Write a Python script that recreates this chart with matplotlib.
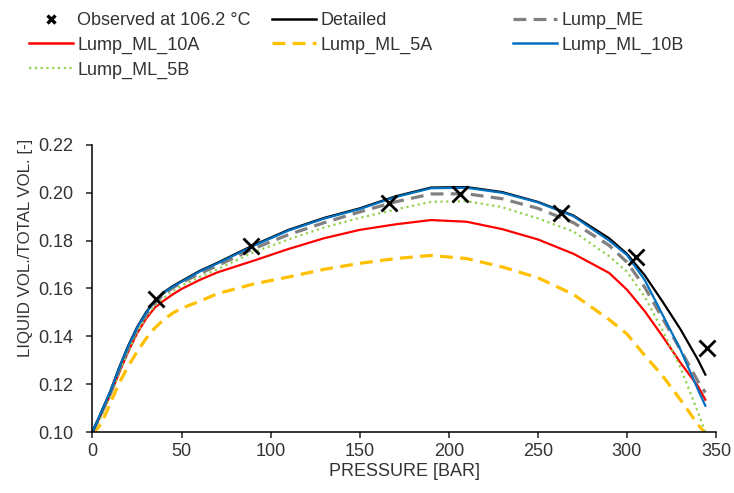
import matplotlib
matplotlib.use("Agg")
import matplotlib.pyplot as plt
from matplotlib.lines import Line2D

plt.rcParams['font.family'] = ['Liberation Sans', 'DejaVu Sans']
plt.rcParams['font.size'] = 13
plt.rcParams['text.color'] = '#333333'
plt.rcParams['axes.labelcolor'] = '#333333'
plt.rcParams['xtick.color'] = '#222222'
plt.rcParams['ytick.color'] = '#222222'
plt.rcParams['xtick.labelcolor'] = '#333333'
plt.rcParams['ytick.labelcolor'] = '#333333'

# pressure grid [bar] for the simulated curves
pressure = [0, 5, 10, 15, 20, 25, 30, 35, 40, 45, 50, 60, 70, 90, 110, 130, 150,
            170, 190, 210, 230, 250, 270, 290, 300, 310, 320, 330, 340, 344]

detailed = [0.100, 0.1085, 0.117, 0.127, 0.136, 0.1438, 0.150, 0.1549, 0.1584,
            0.161, 0.1631, 0.1673, 0.1707, 0.178, 0.1845, 0.1895, 0.1935, 0.1985,
            0.2022, 0.2024, 0.2003, 0.1962, 0.1905, 0.181, 0.1745, 0.1655,
            0.1545, 0.143, 0.130, 0.124]
lump_me = [0.100, 0.108, 0.1162, 0.126, 0.135, 0.1428, 0.149, 0.1539, 0.1575,
           0.1603, 0.1624, 0.1662, 0.1695, 0.1765, 0.1825, 0.1875, 0.192, 0.1962,
           0.1995, 0.1996, 0.1975, 0.1935, 0.1875, 0.178, 0.171, 0.1605,
           0.1475, 0.1345, 0.121, 0.1165]
lump_ml_10a = [0.100, 0.1075, 0.1155, 0.1248, 0.1335, 0.1412, 0.1473, 0.152, 0.1549,
               0.1575, 0.1598, 0.1635, 0.1667, 0.1715, 0.1765, 0.181, 0.1845, 0.1868,
               0.1886, 0.1879, 0.1848, 0.1805, 0.1745, 0.1665, 0.1595, 0.1505,
               0.140, 0.129, 0.119, 0.1135]
lump_ml_5a = [0.099, 0.1035, 0.112, 0.1205, 0.1275, 0.1335, 0.139, 0.1435, 0.147,
              0.1497, 0.1517, 0.1546, 0.1578, 0.1618, 0.1648, 0.168, 0.1705, 0.1725,
              0.1738, 0.1725, 0.169, 0.1645, 0.1575, 0.147, 0.141, 0.132,
              0.1235, 0.1135, 0.103, 0.0995]
lump_ml_10b = [0.100, 0.1085, 0.1169, 0.1268, 0.1357, 0.1435, 0.1497, 0.1546, 0.1581,
               0.1607, 0.1628, 0.167, 0.1704, 0.1777, 0.1842, 0.1892, 0.1932, 0.1982,
               0.2019, 0.2021, 0.2, 0.196, 0.1902, 0.180, 0.174, 0.1635,
               0.149, 0.1345, 0.1175, 0.111]
lump_ml_5b = [0.099, 0.1065, 0.115, 0.1248, 0.1335, 0.1415, 0.148, 0.153, 0.1562,
              0.159, 0.1611, 0.1648, 0.168, 0.175, 0.1805, 0.1855, 0.1895, 0.193,
              0.1962, 0.1965, 0.194, 0.1893, 0.1838, 0.1735, 0.167, 0.1565,
              0.1425, 0.127, 0.108, 0.100]

# measurements at 106.2 C
obs_pressure = [35.5, 89, 166.5, 206.5, 263, 305, 345]
obs_value = [0.1556, 0.1777, 0.1959, 0.1993, 0.1914, 0.1730, 0.1353]

fig = plt.figure(figsize=(7.34, 4.93), dpi=100)
ax = fig.add_axes([0.126, 0.1237, 0.8495, 0.5823])

ax.plot(pressure, lump_ml_5a, color='#FFC000', lw=2.3, dashes=(4, 2.3))
ax.plot(pressure, lump_ml_10a, color='#FF0000', lw=1.6)
ax.plot(pressure, lump_ml_5b, color='#92D050', lw=1.6, dashes=(1, 1.6))
ax.plot(pressure, lump_me, color='#808080', lw=2.3, dashes=(4, 2.3))
ax.plot(pressure, detailed, color='black', lw=1.6)
ax.plot(pressure, lump_ml_10b, color='#0070C0', lw=1.6)
ax.plot(obs_pressure, obs_value, ls='none', marker='x', ms=12, mew=2,
        color='black', clip_on=False)

ax.set_xlim(0, 350)
ax.set_ylim(0.10, 0.22)
ax.set_xticks(range(0, 351, 50))
ax.set_yticks([0.10, 0.12, 0.14, 0.16, 0.18, 0.20, 0.22])
ax.set_yticklabels(['0.10', '0.12', '0.14', '0.16', '0.18', '0.20', '0.22'])
ax.tick_params(direction='out', length=4, width=1.1, labelsize=13)
ax.tick_params(axis='y', pad=10)
ax.tick_params(axis='x', pad=4)
for s in ['top', 'right']:
    ax.spines[s].set_visible(False)
for s in ['left', 'bottom']:
    ax.spines[s].set_linewidth(1.1)
ax.set_xlabel('PRESSURE [BAR]', fontsize=13, labelpad=2)
ax.set_ylabel('LIQUID VOL./TOTAL VOL. [-]', fontsize=12.2, va='center')
ax.yaxis.set_label_coords(-0.107, 0.64)

# legend in three columns
h_obs = Line2D([], [], ls='none', marker='x', ms=5.5, mew=2.4, color='black')
h_det = Line2D([], [], color='black', lw=1.8)
h_me = Line2D([], [], color='#808080', lw=2.3, dashes=(4, 2.3))
h_10a = Line2D([], [], color='#FF0000', lw=1.8)
h_5a = Line2D([], [], color='#FFC000', lw=2.3, dashes=(4, 2.3))
h_10b = Line2D([], [], color='#0070C0', lw=1.8)
h_5b = Line2D([], [], color='#92D050', lw=1.6, dashes=(1, 1.6))

columns = [
    ([h_obs, h_10a, h_5b], ['Observed at 106.2 °C', 'Lump_ML_10A', 'Lump_ML_5B'], 29),
    ([h_det, h_5a], ['Detailed', 'Lump_ML_5A'], 272),
    ([h_me, h_10b], ['Lump_ME', 'Lump_ML_10B'], 513),
]
for handles, labels, xpix in columns:
    fig.legend(handles, labels, loc='upper left',
               bbox_to_anchor=(xpix / 734, 1 - 12 / 493),
               frameon=False, fontsize=13, borderpad=0, borderaxespad=0,
               handlelength=2.45, handletextpad=0.22, labelspacing=0.42)

fig.savefig('out.png', dpi=100)
